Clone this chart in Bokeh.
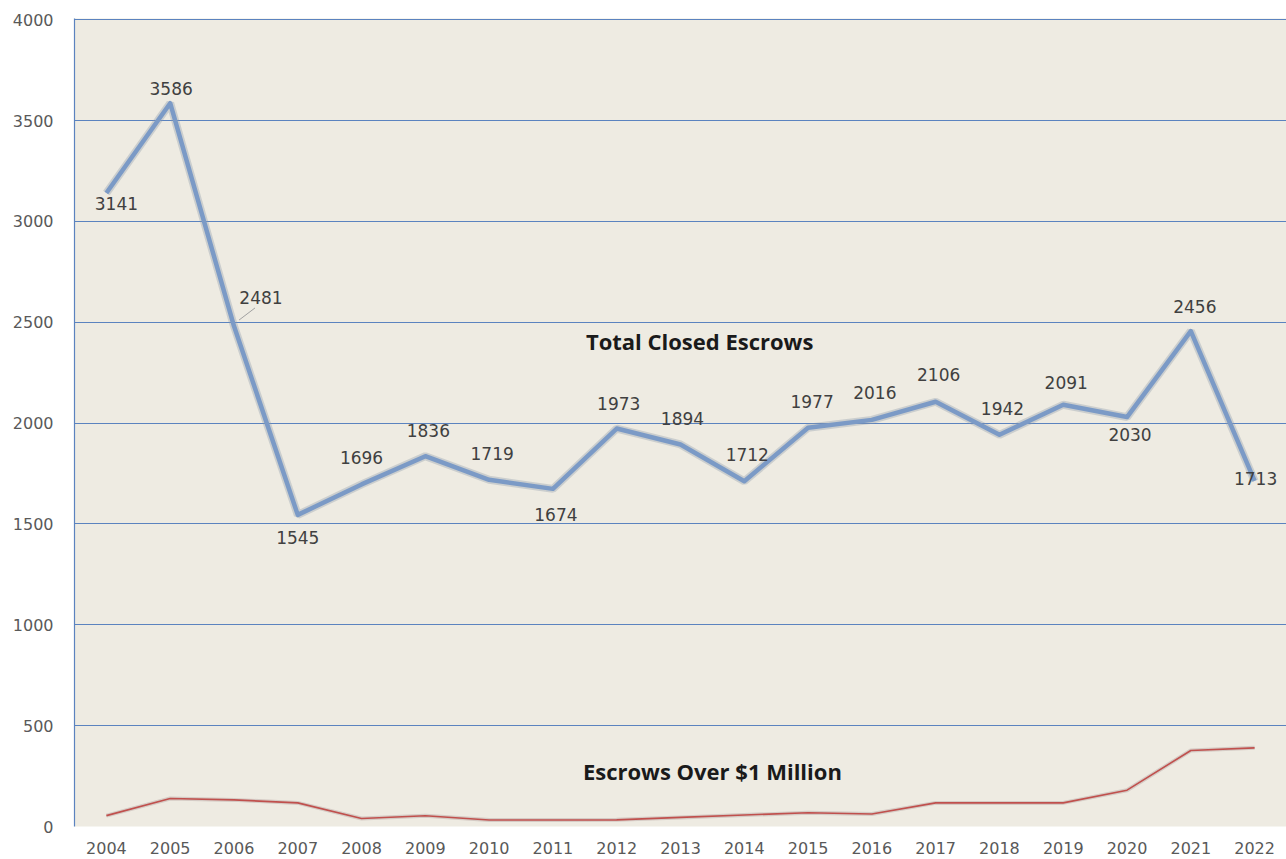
from bokeh.plotting import figure
from bokeh.models import Range1d, FixedTicker, ColumnDataSource, Label
from bokeh.core.properties import value
from bokeh.embed import file_html
from bokeh.resources import INLINE

# ---- data ----
years = [2004, 2005, 2006, 2007, 2008, 2009, 2010, 2011, 2012, 2013,
         2014, 2015, 2016, 2017, 2018, 2019, 2020, 2021, 2022]
total_closed = [3141, 3586, 2481, 1545, 1696, 1836, 1719, 1674, 1973, 1894,
                1712, 1977, 2016, 2106, 1942, 2091, 2030, 2456, 1713]
over_1m = [54, 139, 132, 117, 40, 53, 32, 32, 33, 45,
           57, 68, 62, 117, 117, 117, 180, 377, 390]
y_ticks = [0, 500, 1000, 1500, 2000, 2500, 3000, 3500, 4000]
series_names = ["Total Closed Escrows", "Escrows Over $1 Million"]

# ---- label placement (screen px, style only) ----
lbl_dx = [10, 1, 27, 0, 0, 3, 3, 3, 2, 2, 3, 4, 3, 3, 3, 3, 3, 4, 1]
lbl_dy = [11, -15, -29, 23, -27, -26, -26, 26, -25, -26, -27, -26, -27, -27, -26, -22, 17, -25, -2]

p = figure(width=1286, height=859, output_backend="svg", toolbar_location=None,
           x_range=Range1d(2003.5, 2022.5), y_range=Range1d(0, 4006),
           min_border_left=74, min_border_right=0, min_border_top=18, min_border_bottom=33)

p.background_fill_color = "#eeebe2"
p.border_fill_color = "white"
p.outline_line_color = None

# grid
p.xgrid.grid_line_color = None
p.ygrid.ticker = FixedTicker(ticks=y_ticks[1:])
p.ygrid.grid_line_color = "#5b83bf"
p.ygrid.grid_line_width = 1.2

# axes
p.yaxis.ticker = FixedTicker(ticks=y_ticks)
p.yaxis.axis_line_color = "#5b83bf"
p.yaxis.axis_line_width = 1.2
p.yaxis.major_tick_line_color = None
p.yaxis.minor_tick_line_color = None
p.yaxis.major_label_standoff = 15
p.yaxis.major_label_text_font = "DejaVu Sans"
p.yaxis.major_label_text_font_size = "16px"
p.yaxis.major_label_text_color = "#595959"

p.xaxis.ticker = FixedTicker(ticks=years)
p.xaxis.axis_line_color = None
p.xaxis.major_tick_line_color = None
p.xaxis.minor_tick_line_color = None
p.xaxis.major_label_standoff = 9
p.xaxis.major_label_text_font = "DejaVu Sans"
p.xaxis.major_label_text_font_size = "16px"
p.xaxis.major_label_text_color = "#595959"

src = ColumnDataSource(dict(x=years, total=total_closed, big=over_1m,
                            lbl=[str(v) for v in total_closed], dx=lbl_dx, dy=lbl_dy))

# shadows / glow
p.line("x", "total", source=src, line_color="#8a97a8", line_alpha=0.35, line_width=8)
p.line("x", "big", source=src, line_color="#9a8080", line_alpha=0.3, line_width=4)

# series
p.line("x", "total", source=src, line_color="#7b9ac6", line_width=4.5, line_join="round")
p.line("x", "big", source=src, line_color="#c0504d", line_width=1.6, line_join="round")

# leader line for 2006 label
p.segment(x0=[years[2] + 0.08], y0=[total_closed[2] + 30],
          x1=[years[2] + 0.33], y1=[total_closed[2] + 90],
          line_color="#a0a0a0", line_width=1)

# data labels
p.text(x="x", y="total", text="lbl", source=src, x_offset="dx", y_offset="dy",
       text_align="center", text_baseline="middle",
       text_font=value("DejaVu Sans"), text_font_size="17px", text_color="#404040")

# series name labels
p.add_layout(Label(x=2013.3, y=2408, text=series_names[0], text_align="center",
                   text_baseline="middle", text_font="Open Sans", text_font_style="bold",
                   text_font_size="22px", text_color="#1a1a1a"))
p.add_layout(Label(x=2013.5, y=277, text=series_names[1], text_align="center",
                   text_baseline="middle", text_font="Open Sans", text_font_style="bold",
                   text_font_size="22px", text_color="#1a1a1a"))

open("out.html", "w").write(file_html(p, INLINE))
